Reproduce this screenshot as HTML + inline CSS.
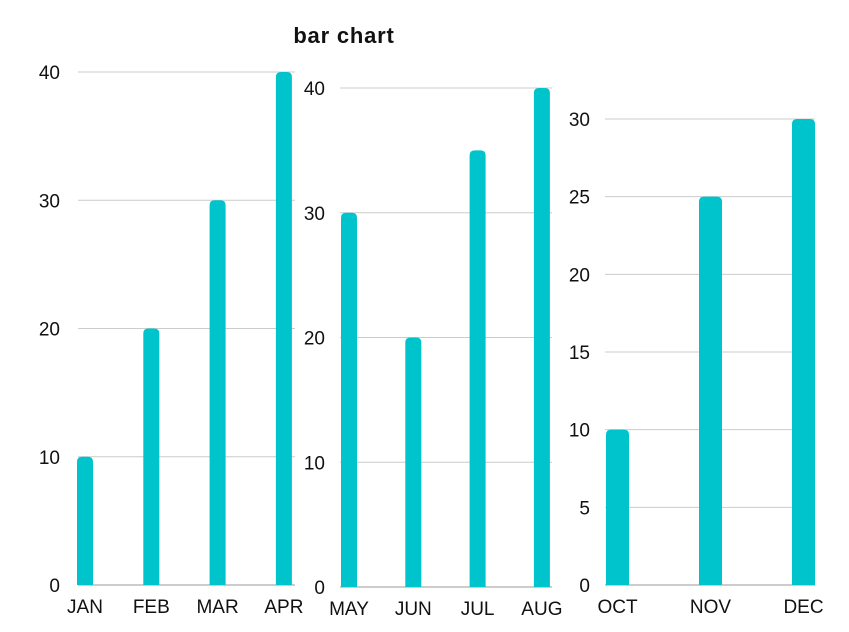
<!DOCTYPE html>
<html><head><meta charset="utf-8"><style>
body{margin:0;background:#fff;}
svg{display:block;font-family:"Liberation Sans",sans-serif;}
</style></head><body>
<svg id="c" width="849" height="632">
<text x="344" y="43" text-anchor="middle" font-size="22" font-weight="bold" letter-spacing="0.8" fill="#111">bar chart</text>
</svg>
<script>
const cats1=["JAN","FEB","MAR","APR"];
const vals1=[10,20,30,40];
const ticks1=[0,10,20,30,40];
const cats2=["MAY","JUN","JUL","AUG"];
const vals2=[30,20,35,40];
const ticks2=[0,10,20,30,40];
const cats3=["OCT","NOV","DEC"];
const vals3=[10,25,30];
const ticks3=[0,5,10,15,20,25,30];
const svg=document.getElementById('c');
const NS="http://www.w3.org/2000/svg";
function mk(t,a){const e=document.createElementNS(NS,t);for(const k in a)e.setAttribute(k,a[k]);svg.appendChild(e);return e;}
function panel(id,cats,vals,ticks,x0,x1,y0,yTop,labelX,bw,catX){
  const max=ticks[ticks.length-1];
  const y=v=>y0-(v/max)*(y0-yTop);
  ticks.forEach(t=>{
    const l=mk('line',{x1:x0,x2:x1,y1:y(t),y2:y(t),stroke:t===0?'#999':'#ccc','stroke-width':1});
    
    
    const tx=mk('text',{x:labelX,y:y(t)+7,'text-anchor':'end','font-size':19,fill:'#111'});
    tx.textContent=t;
    
    
  });
  cats.forEach((c,i)=>{
    const cx=catX(i);
    const top=y(vals[i]),r=Math.min(bw/2,5);
    const p=mk('path',{d:`M${cx-bw/2},${y0}V${top+r}Q${cx-bw/2},${top} ${cx-bw/2+r},${top}H${cx+bw/2-r}Q${cx+bw/2},${top} ${cx+bw/2},${top+r}V${y0}Z`,fill:'#00c4cc'});
    
    
    const tx=mk('text',{x:cx,y:y0+28,'text-anchor':'middle','font-size':19,fill:'#111'});
    tx.textContent=c;
    
    
  });
}
panel('panel1',cats1,vals1,ticks1,78,295,585,72,60,16,i=>85+i*66.3);
panel('panel2',cats2,vals2,ticks2,340,552,587,88,325,16,i=>349+i*64.3);
panel('panel3',cats3,vals3,ticks3,605,815,585,119,590,23,i=>617.5+i*93);
</script>
</body></html>
